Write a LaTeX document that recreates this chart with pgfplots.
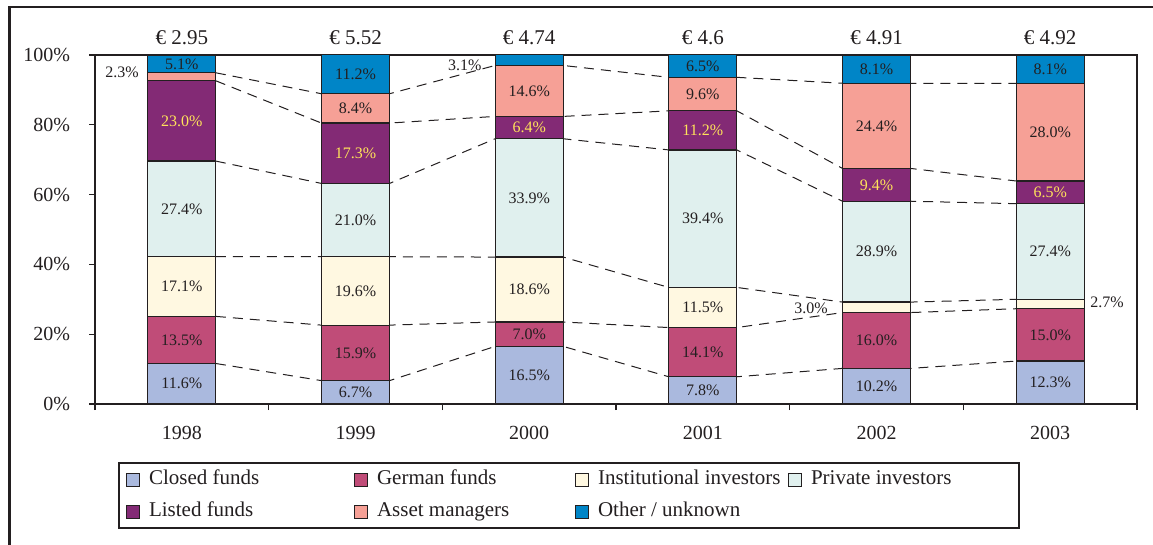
\documentclass[border=0pt]{standalone}
\usepackage{fontspec}
\setmainfont{Liberation Serif}
\usepackage{pgfplots}
\pgfplotsset{compat=1.18}

\definecolor{cClosed}{HTML}{AAB9DE}
\definecolor{cGerman}{HTML}{C04C78}
\definecolor{cInst}{HTML}{FFF8E1}
\definecolor{cPriv}{HTML}{E0F0EE}
\definecolor{cListed}{HTML}{832A75}
\definecolor{cAsset}{HTML}{F6A096}
\definecolor{cOther}{HTML}{0085C7}
\definecolor{cLabel}{HTML}{FFE35A}
\definecolor{cText}{HTML}{231F20}

\pgfplotsset{
  base/.style={
    scale only axis, width=521pt, height=174.5pt,
    at={(47.5pt,-202pt)}, anchor=south west,
    xmin=-0.5, xmax=5.5, ymin=0, ymax=100,
  },
  sq/.style={legend image code/.code={
    \draw[##1, line width=0.5pt] (0pt,-3.25pt) rectangle (6.5pt,3.25pt);}},
  seg/.style={fill=#1, draw=cText, line width=0.6pt, sq},
  sline/.style={cText, line width=0.5pt, dash pattern=on 5pt off 3.5pt},
}
\tikzset{
  lab/.style={font=\fontsize{8}{9}\selectfont, text=cText, inner sep=0pt},
  labY/.style={lab, text=cLabel},
  toplab/.style={font=\fontsize{10.5}{12}\selectfont, text=cText, anchor=base, yshift=5pt},
}

\begin{document}
\begin{tikzpicture}
% outer frame
\draw[line width=1.2pt, cText] (4.7pt,-3.5pt) rectangle (600pt,-300pt);

% series lines, drawn behind the bars
\begin{axis}[base, axis lines=none, clip=false]
\addplot[sline] coordinates {(0.196,11.6)(0.804,6.7)(1.196,6.7)(1.804,16.5)(2.196,16.5)(2.804,7.8)(3.196,7.8)(3.804,10.2)(4.196,10.2)(4.804,12.3)};
\addplot[sline] coordinates {(0.196,25.1)(0.804,22.6)(1.196,22.6)(1.804,23.5)(2.196,23.5)(2.804,21.9)(3.196,21.9)(3.804,26.2)(4.196,26.2)(4.804,27.3)};
\addplot[sline] coordinates {(0.196,42.2)(0.804,42.2)(1.196,42.2)(1.804,42.1)(2.196,42.1)(2.804,33.4)(3.196,33.4)(3.804,29.2)(4.196,29.2)(4.804,30.0)};
\addplot[sline] coordinates {(0.196,69.6)(0.804,63.2)(1.196,63.2)(1.804,76.0)(2.196,76.0)(2.804,72.8)(3.196,72.8)(3.804,58.1)(4.196,58.1)(4.804,57.4)};
\addplot[sline] coordinates {(0.196,92.6)(0.804,80.5)(1.196,80.5)(1.804,82.4)(2.196,82.4)(2.804,84.0)(3.196,84.0)(3.804,67.5)(4.196,67.5)(4.804,63.9)};
\addplot[sline] coordinates {(0.196,94.9)(0.804,88.9)(1.196,88.9)(1.804,97.0)(2.196,97.0)(2.804,93.6)(3.196,93.6)(3.804,91.9)(4.196,91.9)(4.804,91.9)};
\end{axis}

% stacked bars
\begin{axis}[base, ybar stacked, bar width=34pt, clip=false,
  axis line style={line width=0.9pt, cText},
  xtick={0,1,2,3,4,5},
  xticklabels={1998,1999,2000,2001,2002,2003},
  minor xtick={-0.5,0.5,1.5,2.5,3.5,4.5,5.5},
  major x tick style={draw=none},
  minor x tick style={draw=cText, line width=0.6pt},
  ytick={0,20,40,60,80,100},
  yticklabels={0\%,20\%,40\%,60\%,80\%,100\%},
  y tick style={draw=cText, line width=0.6pt},
  tick align=outside, major tick length=3pt, minor tick length=3pt,
  xtick pos=bottom, ytick pos=left,
  tick label style={font=\fontsize{10}{12}\selectfont, text=cText},
  xticklabel style={yshift=-4.5pt},
  yticklabel style={xshift=-6pt},
  legend columns=4, legend cell align=left,
  legend style={at={(0.0221,-0.1662)}, anchor=north west, draw=cText,
    line width=1pt, inner xsep=3.5pt, inner ysep=1.25pt,
    font=\fontsize{10.5}{12}\selectfont, text=cText, row sep=2pt,
    nodes={inner sep=2pt, text height=7.5pt, text depth=2.5pt},
    /tikz/every odd column/.append style={column sep=2.5pt}},
]
\addplot[seg=cClosed] coordinates {(0,11.6)(1,6.7)(2,16.5)(3,7.8)(4,10.2)(5,12.3)};
\addplot[seg=cGerman] coordinates {(0,13.5)(1,15.9)(2,7.0)(3,14.1)(4,16.0)(5,15.0)};
\addplot[seg=cInst]   coordinates {(0,17.1)(1,19.6)(2,18.6)(3,11.5)(4,3.0)(5,2.7)};
\addplot[seg=cPriv]   coordinates {(0,27.4)(1,21.0)(2,33.9)(3,39.4)(4,28.9)(5,27.4)};
\addplot[seg=cListed] coordinates {(0,23.0)(1,17.3)(2,6.4)(3,11.2)(4,9.4)(5,6.5)};
\addplot[seg=cAsset]  coordinates {(0,2.3)(1,8.4)(2,14.6)(3,9.6)(4,24.4)(5,28.0)};
\addplot[seg=cOther]  coordinates {(0,5.1)(1,11.2)(2,3.1)(3,6.5)(4,8.1)(5,8.1)};
\addlegendentry{\makebox[100.5pt][l]{Closed funds}}
\addlegendentry{\makebox[97pt][l]{German funds}}
\addlegendentry{\makebox[93pt][l]{Institutional investors}}
\addlegendentry{\makebox[98.5pt][l]{Private investors}}
\addlegendentry{Listed funds}
\addlegendentry{Asset managers}
\addlegendentry{Other / unknown}
\end{axis}

% labels on top of everything
\begin{axis}[base, axis lines=none, clip=false]
% totals above the bars
\node[toplab] at (axis cs:0,100) {€ 2.95};
\node[toplab] at (axis cs:1,100) {€ 5.52};
\node[toplab] at (axis cs:2,100) {€ 4.74};
\node[toplab] at (axis cs:3,100) {€ 4.6};
\node[toplab] at (axis cs:4,100) {€ 4.91};
\node[toplab] at (axis cs:5,100) {€ 4.92};
% 1998
\node[lab] at (axis cs:0,5.8) {11.6\%};
\node[lab] at (axis cs:0,18.35) {13.5\%};
\node[lab] at (axis cs:0,33.65) {17.1\%};
\node[lab] at (axis cs:0,55.9) {27.4\%};
\node[labY] at (axis cs:0,81.1) {23.0\%};
\node[lab] at (axis cs:-0.345,95.1) {2.3\%};
\node[lab] at (axis cs:0,97.45) {5.1\%};
% 1999
\node[lab] at (axis cs:1,3.35) {6.7\%};
\node[lab] at (axis cs:1,14.65) {15.9\%};
\node[lab] at (axis cs:1,32.4) {19.6\%};
\node[lab] at (axis cs:1,52.7) {21.0\%};
\node[labY] at (axis cs:1,71.85) {17.3\%};
\node[lab] at (axis cs:1,84.7) {8.4\%};
\node[lab] at (axis cs:1,94.5) {11.2\%};
% 2000
\node[lab] at (axis cs:2,8.25) {16.5\%};
\node[lab] at (axis cs:2,20.0) {7.0\%};
\node[lab] at (axis cs:2,32.8) {18.6\%};
\node[lab] at (axis cs:2,59.05) {33.9\%};
\node[labY] at (axis cs:2,79.2) {6.4\%};
\node[lab] at (axis cs:2,89.7) {14.6\%};
\node[lab] at (axis cs:1.63,97.1) {3.1\%};
% 2001
\node[lab] at (axis cs:3,3.9) {7.8\%};
\node[lab] at (axis cs:3,14.85) {14.1\%};
\node[lab] at (axis cs:3,27.65) {11.5\%};
\node[lab] at (axis cs:3,53.1) {39.4\%};
\node[labY] at (axis cs:3,78.4) {11.2\%};
\node[lab] at (axis cs:3,88.8) {9.6\%};
\node[lab] at (axis cs:3,96.85) {6.5\%};
% 2002
\node[lab] at (axis cs:4,5.1) {10.2\%};
\node[lab] at (axis cs:4,18.2) {16.0\%};
\node[lab] at (axis cs:3.623,27.5) {3.0\%};
\node[lab] at (axis cs:4,43.65) {28.9\%};
\node[labY] at (axis cs:4,62.8) {9.4\%};
\node[lab] at (axis cs:4,79.7) {24.4\%};
\node[lab] at (axis cs:4,95.95) {8.1\%};
% 2003
\node[lab] at (axis cs:5,6.15) {12.3\%};
\node[lab] at (axis cs:5,19.8) {15.0\%};
\node[lab] at (axis cs:5.327,29.1) {2.7\%};
\node[lab] at (axis cs:5,43.7) {27.4\%};
\node[labY] at (axis cs:5,60.65) {6.5\%};
\node[lab] at (axis cs:5,77.9) {28.0\%};
\node[lab] at (axis cs:5,95.95) {8.1\%};
\end{axis}

\pgfresetboundingbox
\path (0pt,0pt) rectangle (576.5pt,-272.5pt);
\end{tikzpicture}
\end{document}
